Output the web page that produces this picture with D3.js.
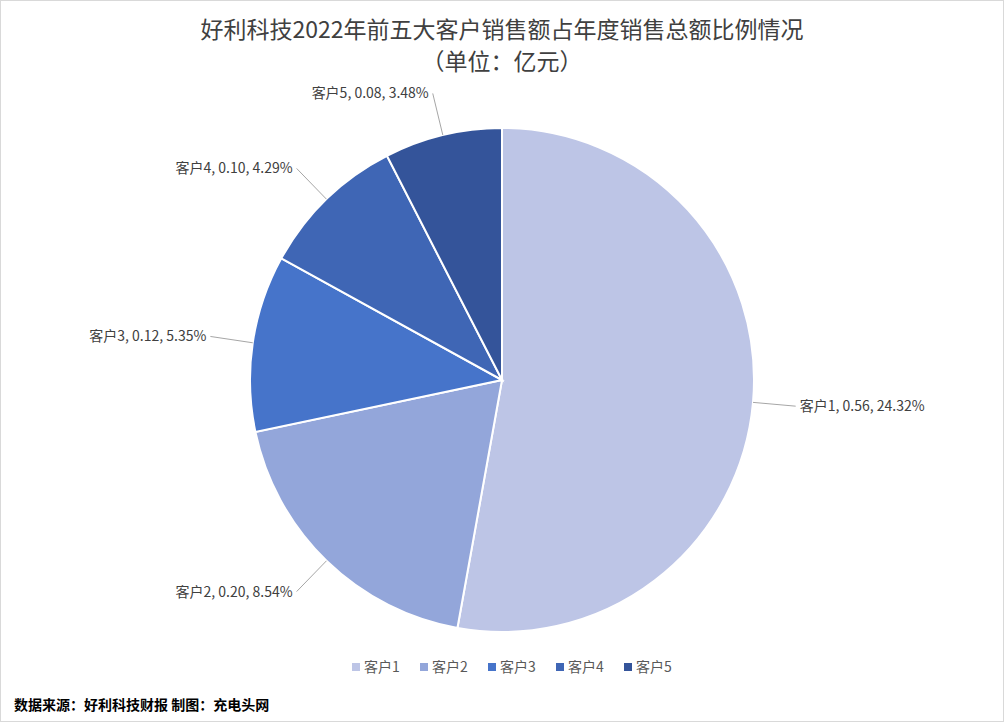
<!DOCTYPE html>
<html><head><meta charset="utf-8">
<script src="https://cdn.jsdelivr.net/npm/d3@7/dist/d3.min.js"></script>
<style>body{margin:0;background:#fff}svg{display:block}text{font-family:"Noto Sans CJK SC","Noto Sans",sans-serif}</style>
</head><body><svg id="c" width="1004" height="722"></svg>
<script>
const categories=["客户1","客户2","客户3","客户4","客户5"];
const values=[0.56,0.20,0.12,0.10,0.08];
const percents=["24.32%","8.54%","5.35%","4.29%","3.48%"];
const colors=["#BDC5E6","#93A6DA","#4674CA","#3F66B5","#34549A"];
const svg=d3.select("#c");
svg.append("rect").attr("x",0.5).attr("y",0.5).attr("width",1003).attr("height",721).attr("fill","#fff").attr("stroke","#d9d9d9");
svg.append("text").attr("x",502).attr("y",38).attr("text-anchor","middle").attr("font-size",23).attr("fill","#404040").text("好利科技2022年前五大客户销售额占年度销售总额比例情况");
svg.append("text").attr("x",502).attr("y",70).attr("text-anchor","middle").attr("font-size",23).attr("fill","#404040").text("（单位：亿元）");
const cx=502,cy=380,R=252;
const data=categories.map((c,i)=>({c,v:values[i],p:percents[i],col:colors[i]}));
const pie=d3.pie().value(d=>d.v).sort(null);
const arcs=pie(data);
const arc=d3.arc().innerRadius(0).outerRadius(R);
const g=svg.append("g").attr("transform",`translate(${cx},${cy})`);
g.selectAll("path").data(arcs).join("path").attr("d",arc).attr("fill",d=>d.data.col).attr("stroke","#fff").attr("stroke-width",2);
const inner=d3.arc().innerRadius(R).outerRadius(R);
const outer=d3.arc().innerRadius(R*1.17).outerRadius(R*1.17);
arcs.forEach(a=>{
  const p0=inner.centroid(a),p1=outer.centroid(a);
  const right=p1[0]>0;
  g.append("polyline").attr("points",[p0,p1].map(p=>p.join(",")).join(" ")).attr("fill","none").attr("stroke","#a6a6a6").attr("stroke-width",1);
  g.append("text").attr("x",p1[0]+(right?4:-4)).attr("y",p1[1]+5).attr("text-anchor",right?"start":"end")
   .attr("font-size",14).attr("fill","#404040").text(`${a.data.c}, ${a.data.v.toFixed(2)}, ${a.data.p}`);
});
const lg=svg.append("g");
const w=[68,68,68,68,60];let x=352;
data.forEach((d,i)=>{
  lg.append("rect").attr("x",x).attr("y",663).attr("width",8).attr("height",8).attr("fill",d.col);
  lg.append("text").attr("x",x+12).attr("y",672).attr("font-size",14).attr("fill","#595959").text(d.c);
  x+=w[i];
});
svg.append("text").attr("x",14).attr("y",710).attr("font-size",14).attr("font-weight","bold").attr("fill","#000").text("数据来源：好利科技财报 制图：充电头网");
</script></body></html>
